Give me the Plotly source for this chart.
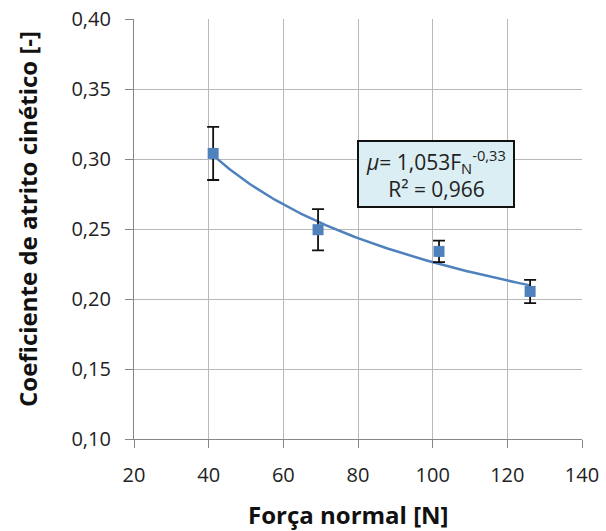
import numpy as np
import plotly.graph_objects as go

forca = [41.2, 69.3, 101.7, 126.1]
mu = [0.304, 0.2495, 0.234, 0.2054]
erro = [0.019, 0.0147, 0.0077, 0.0083]

x_ticks = [20, 40, 60, 80, 100, 120, 140]
y_ticks = [0.10, 0.15, 0.20, 0.25, 0.30, 0.35, 0.40]

# power-law trendline fitted (log-log least squares) like Excel
b, lna = np.polyfit(np.log(forca), np.log(mu), 1)
xf = np.linspace(min(forca), max(forca), 200)
yf = np.exp(lna) * xf ** b

font = "Open Sans, sans-serif"
W, H = 606, 531
L, R, T, B = 134, 24, 19, 92
pw, ph = W - L - R, H - T - B


def px(x):
    return (x - L) / pw


def py(y):
    return 1 - (y - T) / ph


fig = go.Figure()
fig.add_trace(go.Scatter(x=xf, y=yf, mode="lines",
                         line=dict(color="#4F81BD", width=2.5), hoverinfo="skip"))
fig.add_trace(go.Scatter(x=forca, y=mu, mode="markers",
                         marker=dict(symbol="square", size=11, color="#4F81BD"),
                         error_y=dict(type="data", array=erro, color="#111",
                                      thickness=1.8, width=6)))

fig.add_annotation(x=px(436), y=py(173.5), xref="paper", yref="paper", showarrow=False,
                   xanchor="center", yanchor="middle",
                   text="<i>μ</i>= 1,053F<sub>N</sub><sup>-0,33</sup><br>R² = 0,966",
                   font=dict(family=font, size=21, color="#222"),
                   bgcolor="#DAEEF3", bordercolor="#111", borderwidth=2,
                   borderpad=3, align="center", width=148)
fig.add_annotation(x=px(348), y=py(514), xref="paper", yref="paper", showarrow=False,
                   xanchor="center", yanchor="middle",
                   text="<b>Força normal [N]</b>",
                   font=dict(family=font, size=24, color="#111"))
fig.add_annotation(x=px(27), y=py(219), xref="paper", yref="paper", showarrow=False,
                   xanchor="center", yanchor="middle",
                   text="<b>Coeficiente de atrito cinético [-]</b>", textangle=-90,
                   font=dict(family=font, size=24, color="#111"))

fig.update_layout(
    width=W, height=H, margin=dict(l=L, r=R, t=T, b=B, autoexpand=False),
    paper_bgcolor="white", plot_bgcolor="white", showlegend=False,
    separators=",.",
    font=dict(family=font, size=19, color="#222"),
    xaxis=dict(range=[20, 140], tickvals=x_ticks, showgrid=True, gridcolor="#B8B8B8",
               gridwidth=1.2, zeroline=False, showline=True, linecolor="#868686",
               linewidth=1.2, ticks="outside", ticklen=8, tickcolor="#868686",
               tickfont=dict(size=20), ticklabelstandoff=10, automargin=False),
    yaxis=dict(range=[0.10, 0.40], tickvals=y_ticks, tickformat=".2f", showgrid=True,
               gridcolor="#B8B8B8", gridwidth=1.2, zeroline=False, showline=True,
               linecolor="#868686", linewidth=1.2, ticks="outside", ticklen=8,
               tickcolor="#868686", tickfont=dict(size=20), ticklabelstandoff=10,
               automargin=False),
)

fig.write_html("out.html")
